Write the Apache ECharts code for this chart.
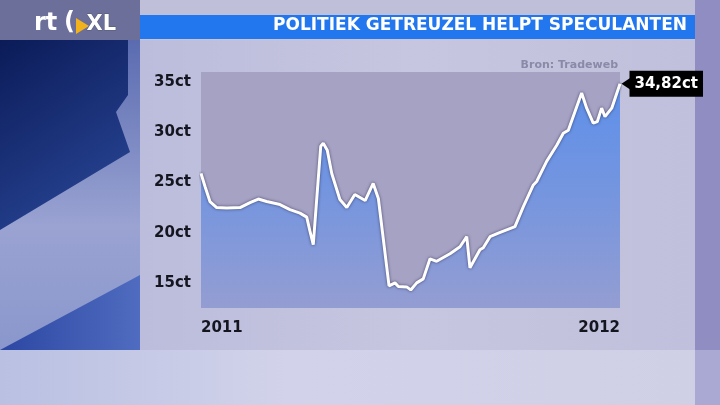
<!DOCTYPE html>
<html>
<head>
<meta charset="utf-8">
<style>html,body{margin:0;padding:0;background:#c6c6e0;}#c{width:720px;height:405px;}</style>
<script src="https://cdn.jsdelivr.net/npm/echarts@6/dist/echarts.min.js"></script>
</head>
<body>
<div id="c"></div>
<script>
// Day of year (0 = start 2011, 365 = start 2012) and price in cents
var days = [0, 3.5, 7.8, 13.7, 22.4, 34, 42.7, 49.9, 57.2, 68.8, 77.5, 86.2, 92.1, 94.8, 97.8,
  104.3, 106.5, 110, 113.9, 121, 127, 134, 143, 150, 154.5, 163.8, 169, 171.9, 179.2, 182.7,
  187.9, 193.6, 199.5, 205.3, 216.9, 225.6, 231.5, 234.3, 243, 245.9, 251.8, 259, 273.5,
  280.8, 289.5, 292.4, 301.1, 309.9, 315.6, 320, 331.6, 336, 341.7, 345.2, 349, 351.9, 357.8, 365];
var values = [25.9, 24.6, 23.1, 22.5, 22.45, 22.5, 23.0, 23.35, 23.1, 22.8, 22.3, 21.95, 21.55, 20.2, 18.8,
  28.6, 28.9, 28.2, 25.9, 23.3, 22.5, 23.8, 23.2, 24.9, 23.4, 14.7, 15.0, 14.65, 14.6, 14.3,
  15.0, 15.4, 17.4, 17.15, 17.9, 18.6, 19.6, 16.5, 18.3, 18.5, 19.6, 19.95, 20.6,
  22.6, 24.75, 25.1, 27.1, 28.7, 29.9, 30.2, 33.9, 32.4, 30.9, 31.05, 32.4, 31.55, 32.4, 34.82];
var xTickLabels = ['2011', '2012'];
var lastLabel = '34,82ct';
var title = 'POLITIEK GETREUZEL HELPT SPECULANTEN';
var source = 'Bron: Tradeweb';

var seriesData = days.map(function (d, i) { return [d, values[i]]; });
var lastIdx = seriesData.length - 1;
var lastCoord = [days[lastIdx], values[lastIdx]];

var chart = echarts.init(document.getElementById('c'));
var font = 'DejaVu Sans';
chart.setOption({
  animation: false,
  backgroundColor: '#c6c6e0',
  graphic: [
    { type: 'rect', z: -10, shape: { x: 0, y: 0, width: 720, height: 405 }, style: { fill: '#c4c4df' } },
    { type: 'rect', z: -10, shape: { x: 140, y: 0, width: 555, height: 15 }, style: { fill: '#bfbfda' } },
    { type: 'rect', z: -10, shape: { x: 0, y: 350, width: 720, height: 55 },
      style: { fill: { type: 'linear', x: 0, y: 0, x2: 1, y2: 0, colorStops: [{ offset: 0, color: '#b9c0e2' }, { offset: 0.4, color: '#d2d3ea' }, { offset: 1, color: '#cfcfe6' }] } } },
    { type: 'rect', z: -10, shape: { x: 140, y: 40, width: 555, height: 310 },
      style: { fill: { type: 'linear', x: 0, y: 0, x2: 1, y2: 0, colorStops: [{ offset: 0, color: '#bcbddc' }, { offset: 0.5, color: '#c6c6e0' }, { offset: 1, color: '#c0c0dc' }] } } },
    { type: 'rect', z: -10, shape: { x: 695, y: 0, width: 25, height: 350 }, style: { fill: '#908dc2' } },
    { type: 'rect', z: -10, shape: { x: 695, y: 350, width: 25, height: 55 }, style: { fill: '#aaa9d3' } },
    { type: 'rect', z: -10, shape: { x: 0, y: 0, width: 140, height: 40 }, style: { fill: '#6b6f9a' } },
    { type: 'rect', z: -10, shape: { x: 0, y: 40, width: 140, height: 310 },
      style: { fill: { type: 'linear', x: 0, y: 0, x2: 0, y2: 1, colorStops: [{ offset: 0, color: '#5a6bb0' }, { offset: 0.6, color: '#9aa3d2' }, { offset: 1, color: '#8a97cc' }] } } },
    { type: 'polygon', z: -9, shape: { points: [[0, 40], [128, 40], [128, 95], [116, 112], [130, 152], [0, 230]] },
      style: { fill: { type: 'linear', x: 0, y: 0, x2: 1, y2: 1, colorStops: [{ offset: 0, color: '#0b1b58' }, { offset: 1, color: '#2c4a9c' }] } } },
    { type: 'polygon', z: -9, shape: { points: [[0, 350], [140, 275], [140, 350]] },
      style: { fill: { type: 'linear', x: 0, y: 0, x2: 1, y2: 0, colorStops: [{ offset: 0, color: '#2c47a2' }, { offset: 1, color: '#4f6cc0' }] } } },
    { type: 'rect', z: -5, shape: { x: 140, y: 15, width: 555, height: 24 }, style: { fill: '#2277ee' } },
    { type: 'text', z: 5, right: 33, top: 17, style: { text: title, fill: '#ffffff', font: 'bold 17px "DejaVu Sans"' } },
    { type: 'text', z: 5, left: 34, top: 12, style: { text: 'rt', fill: '#ffffff', font: 'bold 24px "DejaVu Sans"' } },
    { type: 'text', z: 5, left: 64, top: 11, style: { text: '(', fill: '#ffffff', font: 'bold 24px "DejaVu Sans"' } },
    { type: 'polygon', z: 5, shape: { points: [[76, 18], [89, 26], [76, 34]] }, style: { fill: '#f2b21c' } },
    { type: 'text', z: 5, left: 86, top: 14, style: { text: 'XL', fill: '#ffffff', font: 'bold 21px "DejaVu Sans"', stroke: '#555a70', lineWidth: 1 } },
    { type: 'text', z: 5, right: 102, top: 60, style: { text: source, fill: '#8a8aa8', font: 'bold 11px "DejaVu Sans"' } }
  ],
  grid: {
    left: 201, right: 100, top: 72, bottom: 97,
    show: true, backgroundColor: '#a6a2c4', borderWidth: 0
  },
  xAxis: {
    type: 'value', min: 0, max: 365, interval: 365,
    axisLine: { show: false }, axisTick: { show: false }, splitLine: { show: false },
    axisLabel: {
      margin: 13, color: '#151520', fontFamily: font, fontWeight: 'bold', fontSize: 15,
      showMinLabel: true, showMaxLabel: true, alignMinLabel: 'left', alignMaxLabel: 'right',
      formatter: function (v) { return v === 0 ? xTickLabels[0] : xTickLabels[1]; }
    }
  },
  yAxis: {
    type: 'value', min: 12.5, max: 36, interval: 2.5,
    axisLine: { show: false }, axisTick: { show: false }, splitLine: { show: false },
    axisLabel: {
      margin: 10, color: '#151520', fontFamily: font, fontWeight: 'bold', fontSize: 15,
      showMaxLabel: false,
      formatter: function (v) { return (v % 5 === 0) ? v + 'ct' : ''; }
    }
  },
  series: [{
    type: 'line',
    data: seriesData,
    symbol: 'none',
    smooth: false,
    clip: false,
    lineStyle: { color: '#ffffff', width: 3, shadowColor: 'rgba(30,30,70,0.7)', shadowBlur: 3 },
    areaStyle: {
      origin: 'start',
      color: { type: 'linear', x: 0, y: 0, x2: 0, y2: 1, colorStops: [{ offset: 0, color: '#3f88fa' }, { offset: 0.5, color: '#6190ea' }, { offset: 1, color: '#8c9bd8' }] }
    },
    markPoint: {
      silent: true,
      data: [
        { coord: lastCoord, symbol: 'rect', symbolSize: [1, 1], itemStyle: { color: 'rgba(0,0,0,0)' },
          label: { show: true, position: 'right', distance: 9, formatter: lastLabel,
            backgroundColor: '#000', color: '#fff', fontFamily: 'DejaVu Sans', fontWeight: 'bold',
            fontSize: 15, padding: [6, 5, 5, 5] } },
        { coord: lastCoord, symbol: 'triangle', symbolRotate: 90, symbolSize: [12, 9], symbolOffset: [6, 0], itemStyle: { color: '#000' }, label: { show: false }, z: 10 }
      ]
    },
    z: 3
  }]
});
</script>
</body>
</html>
